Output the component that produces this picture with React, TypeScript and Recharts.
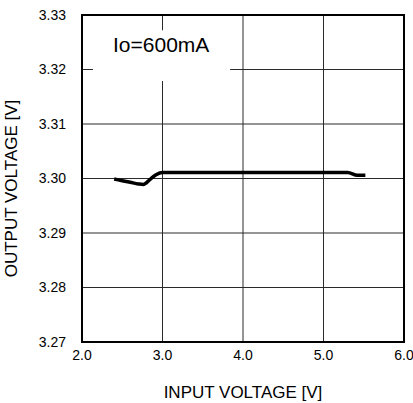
import React from 'react';
import { LineChart, Line, XAxis, YAxis, CartesianGrid, ReferenceArea } from 'recharts';

const inputVoltage = [2.4, 2.5, 2.6, 2.7, 2.76, 2.85, 2.92, 3.0, 4.0, 5.0, 5.3, 5.42, 5.52];
const outputVoltage = [3.2999, 3.2996, 3.2993, 3.299, 3.2989, 3.2999, 3.3007, 3.3011, 3.3011, 3.3011, 3.3011, 3.3006, 3.3006];

const xTicks = [2, 3, 4, 5, 6];
const yTicks = [3.27, 3.28, 3.29, 3.3, 3.31, 3.32, 3.33];

const data = inputVoltage.map((v, i) => ({ vin: v, vout: outputVoltage[i] }));

const FONT = '"Liberation Sans", Arial, sans-serif';

export default function App() {
  return (
    <div style={{ position: 'absolute', left: 0, top: 0, width: 413, height: 403, background: '#fff' }}>
      <LineChart
        width={413}
        height={403}
        data={data}
        margin={{ top: 15, right: 9, bottom: 0, left: 0 }}
        style={{ fontFamily: FONT }}
      >
        <CartesianGrid stroke="#2a2a2a" strokeWidth={1} />
        <XAxis
          dataKey="vin"
          type="number"
          domain={[2, 6]}
          ticks={xTicks}
          tickFormatter={(v: number) => v.toFixed(1)}
          axisLine={false}
          tickLine={false}
          tickSize={0}
          tickMargin={8}
          height={61}
          tick={{ fill: '#000', fontSize: 14 }}
          label={{ value: 'INPUT VOLTAGE [V]', position: 'insideBottom', offset: 5, fill: '#000', fontSize: 17 }}
        />
        <YAxis
          type="number"
          domain={[3.27, 3.33]}
          ticks={yTicks}
          tickFormatter={(v: number) => v.toFixed(2)}
          axisLine={false}
          tickLine={false}
          tickSize={0}
          tickMargin={16}
          width={82}
          tick={{ fill: '#000', fontSize: 14 }}
          label={{ value: 'OUTPUT VOLTAGE [V]', angle: -90, position: 'insideLeft', offset: 11, dy: 10, fill: '#000', fontSize: 17, style: { textAnchor: 'middle' } }}
        />
        <ReferenceArea
          x1={2.137}
          x2={3.84}
          y1={3.3179}
          y2={3.3272}
          fill="#fff"
          fillOpacity={1}
          stroke="none"
          label={(props: any) => {
            const vb = props.viewBox || {};
            return (
              <text x={vb.x + 20} y={vb.y + 22} fontSize={21} fill="#000" fontFamily={FONT}>
                Io=600mA
              </text>
            );
          }}
        />
        <ReferenceArea x1={2} x2={6} y1={3.27} y2={3.33} fill="none" stroke="#000" strokeWidth={2} />
        <Line
          type="monotone"
          dataKey="vout"
          stroke="#000"
          strokeWidth={3.5}
          dot={false}
          isAnimationActive={false}
        />
      </LineChart>
    </div>
  );
}
